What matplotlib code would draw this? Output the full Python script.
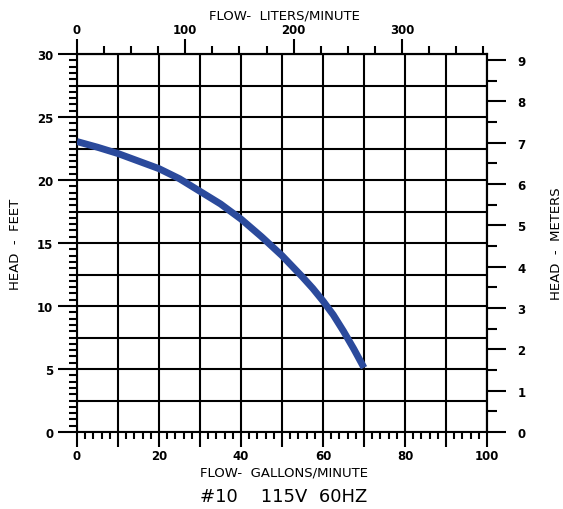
import matplotlib
matplotlib.use("Agg")
import matplotlib.pyplot as plt
from matplotlib.ticker import MultipleLocator

# pump curve (gallons/minute vs head in feet)
flow_gpm = [0, 5, 10, 15, 20, 25, 30, 35, 40, 45, 50, 55, 57.5, 60, 62.5,
            65, 67.5, 70]
head_ft = [23.05, 22.6, 22.1, 21.5, 20.9, 20.1, 19.1, 18.1, 16.9, 15.5,
           14.0, 12.3, 11.4, 10.4, 9.3, 8.0, 6.6, 5.1]

gpm_ticks = [0, 20, 40, 60, 80, 100]
ft_ticks = [0, 5, 10, 15, 20, 25, 30]
lpm_ticks = [0, 100, 200, 300]
m_ticks = [0, 1, 2, 3, 4, 5, 6, 7, 8, 9]

L_PER_GAL = 3.78541
M_PER_FT = 0.3048
CURVE = "#2b4a9c"

fig = plt.figure(figsize=(5.63, 5.10), dpi=100)
ax = fig.add_axes([77 / 563, 77 / 510, 410 / 563, 378 / 510])

ax.set_xlim(0, 100)
ax.set_ylim(0, 30)

ax.plot(flow_gpm, head_ft, color=CURVE, linewidth=5,
        solid_capstyle="butt", solid_joinstyle="round", zorder=5)

# bottom axis: ticks/grid every 10, labels every 20, minor every 2
x_major = list(range(0, 101, 10))
ax.set_xticks(x_major)
ax.set_xticklabels([str(v) if v in gpm_ticks else "" for v in x_major])
ax.xaxis.set_minor_locator(MultipleLocator(2))
ax.tick_params(axis="x", which="major", direction="out", length=11, width=1.5,
               pad=1, labelsize=8.5)
ax.tick_params(axis="x", which="minor", direction="out", length=5, width=1.5)

# left axis: grid every 2.5, labels every 5, minor every 0.5
y_major = [v * 2.5 for v in range(13)]
ax.set_yticks(y_major)
ax.set_yticklabels([str(int(v)) if v in ft_ticks else "" for v in y_major])
ax.yaxis.set_minor_locator(MultipleLocator(0.5))
ax.tick_params(axis="y", which="major", direction="out", length=14, width=1.5,
               pad=3, labelsize=8.5)
ax.tick_params(axis="y", which="minor", direction="out", length=6, width=1.5)
for t, v in zip(ax.yaxis.get_major_ticks(), y_major):
    if v not in ft_ticks:
        t.tick1line.set_markersize(6)

ax.grid(True, which="major", color="black", linewidth=1.5)
for s in ax.spines.values():
    s.set_linewidth(1.5)
for lab in ax.get_xticklabels() + ax.get_yticklabels():
    lab.set_fontweight("bold")

# top axis in liters/minute
top = ax.secondary_xaxis("top", functions=(lambda g: g * L_PER_GAL,
                                           lambda l: l / L_PER_GAL))
top.set_xticks(lpm_ticks)
top.xaxis.set_minor_locator(MultipleLocator(25))
top.tick_params(which="major", direction="out", length=11, width=1.5, pad=2,
                labelsize=8.5)
top.tick_params(which="minor", direction="out", length=6, width=1.5)
for lab in top.get_xticklabels():
    lab.set_fontweight("bold")

# right axis in meters
right = ax.secondary_yaxis("right", functions=(lambda f: f * M_PER_FT,
                                               lambda m: m / M_PER_FT))
right.set_yticks(m_ticks)
right.yaxis.set_minor_locator(MultipleLocator(0.5))
right.tick_params(which="major", direction="out", length=14, width=1.5, pad=8,
                  labelsize=8.5)
right.tick_params(which="minor", direction="out", length=7, width=1.5)
for lab in right.get_yticklabels():
    lab.set_fontweight("bold")
for s in list(top.spines.values()) + list(right.spines.values()):
    s.set_linewidth(1.5)

# labels
fig.text(284 / 563, 1 - 16 / 510, "FLOW-  LITERS/MINUTE", ha="center",
         va="center", fontsize=9.5)
fig.text(284 / 563, 1 - 473 / 510, "FLOW-  GALLONS/MINUTE", ha="center",
         va="center", fontsize=9.5)
fig.text(284 / 563, 1 - 497 / 510, "#10    115V  60HZ", ha="center",
         va="center", fontsize=13)
fig.text(16 / 563, 1 - 244 / 510, "HEAD  -  FEET", rotation=90, ha="center",
         va="center", fontsize=9.5, family="Liberation Sans Narrow")
fig.text(556 / 563, 1 - 244 / 510, "HEAD  -  METERS", rotation=90,
         ha="center", va="center", fontsize=9.5,
         family="Liberation Sans Narrow")

fig.savefig("out.png", dpi=100)
